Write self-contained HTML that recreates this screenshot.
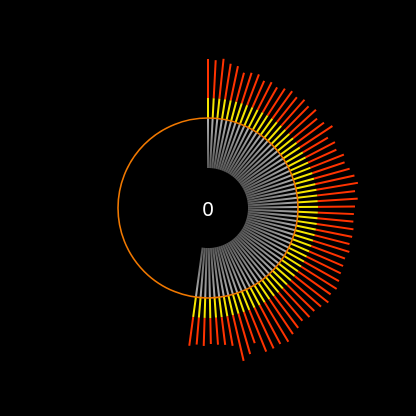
<!DOCTYPE html>
<html><head><meta charset="utf-8"><style>
html,body{margin:0;padding:0;background:#000;}
svg{display:block;}
</style></head><body>
<svg id="chart" width="416" height="416" viewBox="0 0 416 416">
<defs>
<radialGradient id="rg" gradientUnits="userSpaceOnUse" cx="208" cy="208" r="90">
<stop offset="0.44" stop-color="#555"/>
<stop offset="1" stop-color="#b0b0b0"/>
</radialGradient>
</defs>
<rect width="416" height="416" fill="#000"/>
<g id="bars"></g>
<circle cx="208" cy="208" r="90" fill="none" stroke="#f07800" stroke-width="1.6"/>
<text x="208" y="216" text-anchor="middle" fill="#fff" font-family="Liberation Sans, sans-serif" font-size="20">0</text>
</svg>
<script>
const outerRadii = [149,148,150,146,145,140,142,143,139,141,139,142,144,142,145,143,146,141,144,149,139,143,141,146,144,147,150,152,148,150,147,
146,146,147,147,146,148,146,147,148,150,152,150,153,150,148,149,147,150,152,156,154,155,155,143,152,157,140,138,137,136,138,137,139];
const startDeg = 0;
const stepDeg = 2.98;
const cx = 208, cy = 208, rInner = 40, rMid = 90, rYellow = 110;
const g = document.getElementById('bars');
const ns = 'http://www.w3.org/2000/svg';
function pt(r, deg){ const a = deg*Math.PI/180; return [cx + r*Math.sin(a), cy - r*Math.cos(a)]; }
function seg(r1, r2, deg, color, name){
  const [x1,y1] = pt(r1,deg), [x2,y2] = pt(r2,deg);
  const l = document.createElementNS(ns,'line');
  l.setAttribute('x1',x1); l.setAttribute('y1',y1); l.setAttribute('x2',x2); l.setAttribute('y2',y2);
  l.setAttribute('stroke',color); l.setAttribute('stroke-width','2');
  
  
  g.appendChild(l);
}
outerRadii.forEach((v,i)=>{
  const deg = startDeg + i*stepDeg;
  seg(rInner, rMid, deg, 'url(#rg)', 'bar-base');
  seg(rMid, Math.min(v, rYellow), deg, '#f5e600', 'bar-mid');
  if (v > rYellow) seg(rYellow, v, deg, '#ff3300', 'bar-tip');
});
</script>
</body></html>
